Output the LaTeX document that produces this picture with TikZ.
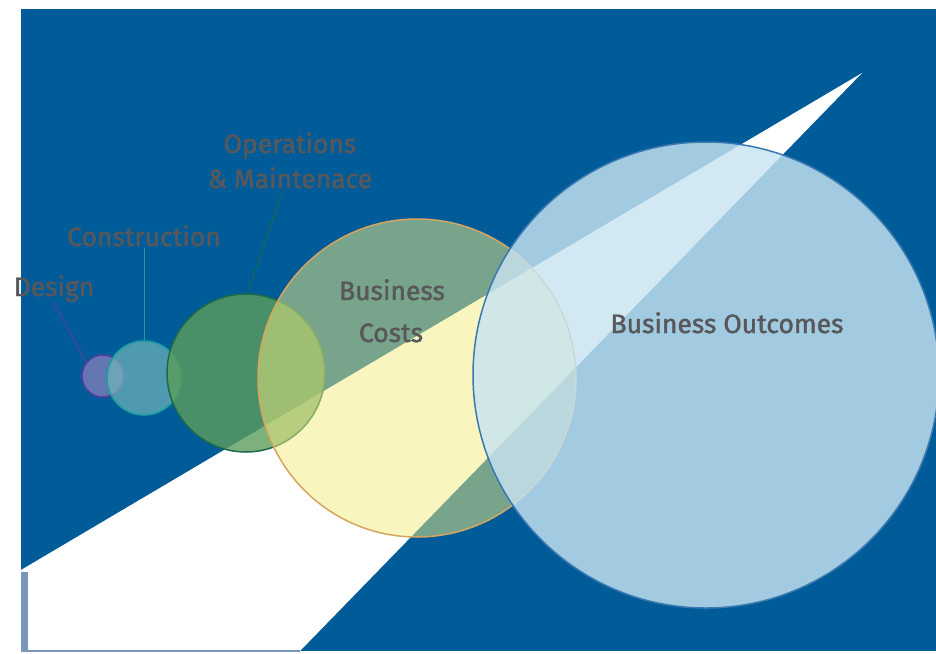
\documentclass[tikz,border=0pt]{standalone}
\usepackage{fontspec}
\setmainfont{Fira Sans}
\newfontfamily\handfont[FakeBold=1.6]{Fira Sans}
\definecolor{bgblue}{RGB}{0,92,153}
\definecolor{beamedge}{RGB}{122,150,187}
\definecolor{txtgray}{RGB}{88,88,90}
\definecolor{designfill}{RGB}{143,131,191}
\definecolor{designline}{RGB}{90,60,160}
\definecolor{constfill}{RGB}{113,181,186}
\definecolor{constline}{RGB}{26,160,160}
\definecolor{opsfill}{RGB}{92,157,92}
\definecolor{opsline}{RGB}{27,107,74}
\definecolor{costfill}{RGB}{243,237,129}
\definecolor{costline}{RGB}{215,165,95}
\definecolor{outfill}{RGB}{200,228,241}
\definecolor{outline}{RGB}{58,120,176}
\tikzset{
  bubble/.style={circle, inner sep=0pt, line width=1.5pt},
  lbl/.style={text=txtgray, inner sep=1pt, anchor=base, font=\handfont\fontsize{26.5}{30}\selectfont},
  leader/.style={line width=1pt}
}
\begin{document}
\begin{tikzpicture}[x=1pt,y=-1pt]
\useasboundingbox (0,0) rectangle (936,653);
% background and light beam
\fill[bgblue] (21,9) rectangle (936,651);
\fill[white] (21,570) -- (862,73) -- (300,651) -- (21,651) -- cycle;
\fill[beamedge] (21,572) rectangle (28,651);
\fill[beamedge] (21,650) rectangle (300,651.5);
% circles
\node[bubble, minimum size=42pt, fill=designfill, fill opacity=0.7, draw=designline] (cdesign) at (103,376) {};
\node[bubble, minimum size=74pt, fill=constfill, fill opacity=0.7, draw=constline] (cconst) at (144,378) {};
\node[bubble, minimum size=158pt, fill=opsfill, fill opacity=0.8, draw=opsline] (cops) at (246,373) {};
\node[bubble, minimum size=318pt, fill=costfill, fill opacity=0.5, draw=costline] (ccost) at (417,378) {};
\node[bubble, minimum size=466pt, fill=outfill, fill opacity=0.81, draw=outline] (cout) at (706,375) {};
% labels
\node[lbl] (ldesign) at (54,296) {Design};
\node[lbl] (lconst) at (144,246) {Construction};
\node[lbl] (lops1) at (290,153) {Operations};
\node[lbl] (lops2) at (290,188) {\& Maintenace};
\node[lbl] (lcost1) at (392,300) {Business};
\node[lbl] (lcost2) at (391,342) {Costs};
\node[lbl] (lout) at (727,333) {Business Outcomes};
% leaders
\draw[leader, designline] (ldesign.south) -- (cdesign.141);
\draw[leader, constline] (lconst.south) -- (cconst.north);
\draw[leader, opsline] ([xshift=-7pt]lops2.south) -- (cops.89);
\end{tikzpicture}
\end{document}
